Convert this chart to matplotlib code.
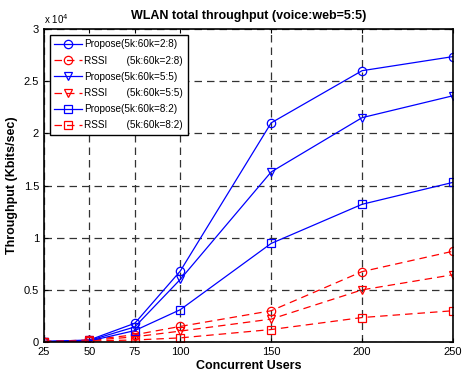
import numpy as np
import matplotlib.pyplot as plt

plt.rcParams['font.family'] = ['Liberation Sans', 'DejaVu Sans']

users = [25, 50, 75, 100, 150, 200, 250]

propose_28 = [50, 200, 1800, 6800, 21000, 26000, 27350]
rssi_28 = [50, 200, 700, 1500, 3000, 6750, 8700]
propose_55 = [50, 150, 1450, 6000, 16300, 21500, 23600]
rssi_55 = [50, 150, 500, 1050, 2200, 5000, 6450]
propose_82 = [50, 100, 1100, 3100, 9450, 13200, 15300]
rssi_82 = [50, 100, 200, 400, 1200, 2350, 3000]

series = [
    (propose_28, 'b-', 'o', 'Propose(5k:60k=2:8)'),
    (rssi_28, 'r--', 'o', 'RSSI       (5k:60k=2:8)'),
    (propose_55, 'b-', 'v', 'Propose(5k:60k=5:5)'),
    (rssi_55, 'r--', 'v', 'RSSI       (5k:60k=5:5)'),
    (propose_82, 'b-', 's', 'Propose(5k:60k=8:2)'),
    (rssi_82, 'r--', 's', 'RSSI       (5k:60k=8:2)'),
]

fig = plt.figure(figsize=(4.62, 3.71), dpi=100)
ax = fig.add_axes([0.095, 0.078, 0.8855, 0.844])

for vals, style, mk, label in series:
    ax.plot(users, vals, style, marker=mk, markersize=6, markerfacecolor='none',
            linewidth=0.9, markeredgewidth=0.9, label=label, dashes=(6, 4) if '--' in style else ())

ax.set_xlim(25, 250)
ax.set_ylim(0, 30000)
ax.set_xticks(users)
ax.set_yticks(np.arange(0, 30001, 5000))
ax.set_yticklabels(['0', '0.5', '1', '1.5', '2', '2.5', '3'])
ax.text(0.0, 1.01, r'x 10$^4$', transform=ax.transAxes, fontsize=7, ha='left', va='bottom')

ax.grid(True, color='#333333', linestyle=(0, (6, 4)), linewidth=0.9)
ax.tick_params(direction='in', labelsize=8, length=3, top=True, right=True)
for s in ax.spines.values():
    s.set_linewidth(1.2)

ax.set_title('WLAN total throughput (voice:web=5:5)', fontsize=9, fontweight='bold', pad=7)
ax.set_xlabel('Concurrent Users', fontsize=9, fontweight='bold', labelpad=2)
ax.set_ylabel('Throughput (Kbits/sec)', fontsize=9, fontweight='bold', labelpad=4)

leg = ax.legend(loc='upper left', fontsize=7.2, fancybox=False, framealpha=1,
                edgecolor='black', handlelength=2.8, borderpad=0.45, labelspacing=0.62,
                handletextpad=0.2, borderaxespad=0.6)
leg.get_frame().set_linewidth(1.0)

fig.savefig('out.png', dpi=100)
